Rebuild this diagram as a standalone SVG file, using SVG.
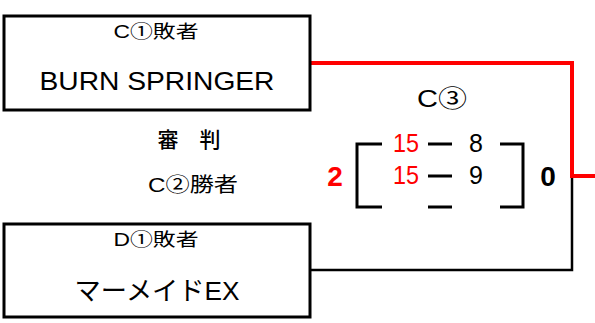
<svg xmlns="http://www.w3.org/2000/svg" width="595" height="323" viewBox="0 0 595 323">
<style>
text{font-family:"Liberation Sans","Noto Sans CJK JP",sans-serif;text-anchor:middle;fill:#000}
.box{fill:#fff;stroke:#000;stroke-width:3}
.red{fill:#ff0000}
.br{fill:none;stroke:#000;stroke-width:3}
</style>
<rect width="595" height="323" fill="#fff"/>
<g id="connectors">
<polyline points="310,270 572,270 572,176" fill="none" stroke="#000" stroke-width="2.5"/>
<polyline points="310,63 572,63 572,176 595,176" fill="none" stroke="#ff0000" stroke-width="4"/>
</g>
<g id="node-top">
<rect class="box" x="4" y="16" width="306" height="94"/>
<text x="156" y="38" font-size="18" textLength="85" lengthAdjust="spacingAndGlyphs">C①敗者</text>
<text x="157" y="90" font-size="25" textLength="235" lengthAdjust="spacingAndGlyphs">BURN SPRINGER</text>
</g>
<g id="node-bottom">
<rect class="box" x="4" y="224" width="306" height="93"/>
<text x="156" y="246" font-size="18" textLength="85" lengthAdjust="spacingAndGlyphs">D①敗者</text>
<text x="157" y="300" font-size="26" textLength="165" lengthAdjust="spacingAndGlyphs">マーメイドEX</text>
</g>
<g id="referee">
<text x="189" y="147" font-size="21" font-weight="500">審　判</text>
<text x="193" y="192" font-size="20" textLength="90" lengthAdjust="spacingAndGlyphs">C②勝者</text>
</g>
<g id="match">
<text x="442" y="107" font-size="24" textLength="50" lengthAdjust="spacingAndGlyphs">C③</text>
<path class="br" d="M382,144H357V207H382M500,144H523V207H500M428,144H452M428,176H452M428,207H452"/>
<text class="red" x="406" y="152" font-size="25" textLength="26" lengthAdjust="spacingAndGlyphs">15</text>
<text class="red" x="406" y="184" font-size="25" textLength="26" lengthAdjust="spacingAndGlyphs">15</text>
<text x="476" y="152" font-size="25">8</text>
<text x="476" y="184" font-size="25">9</text>
<text class="red" x="335" y="186" font-size="28" font-weight="bold">2</text>
<text x="548" y="186" font-size="28" font-weight="bold">0</text>
</g>
</svg>
